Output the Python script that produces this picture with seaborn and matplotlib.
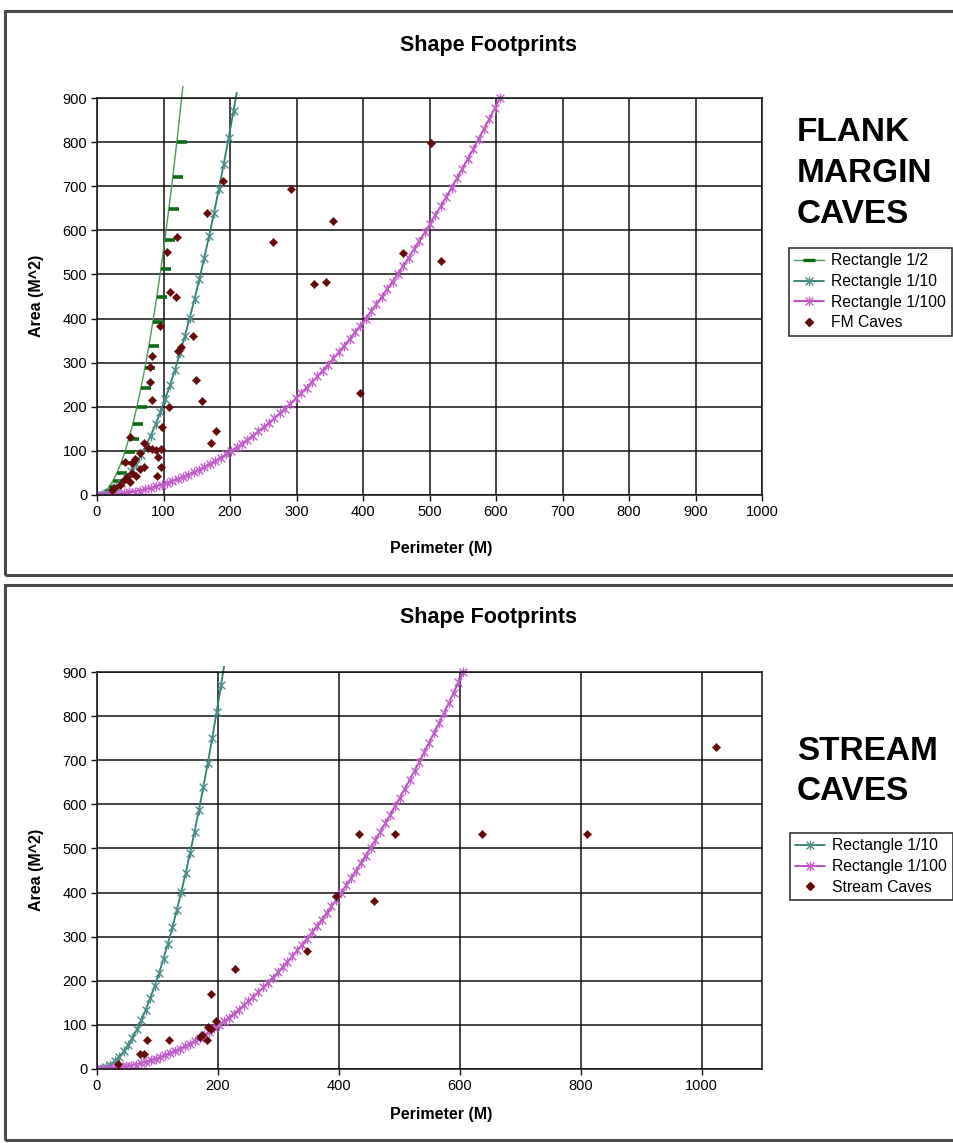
import matplotlib
matplotlib.use("Agg")
import matplotlib.pyplot as plt
from matplotlib.path import Path
from matplotlib.lines import Line2D
from matplotlib.patches import Rectangle
from matplotlib.transforms import Bbox, TransformedBbox
import seaborn as sns

# ---------------- data ----------------
# Rectangle 1/2 (sides a x 2a)
rect2_perimeter = [0, 6, 12, 18, 24, 30, 36, 42, 48, 54, 60, 66, 72, 78, 84, 90,
                   96, 102, 108, 114, 120, 126, 132]
rect2_area = [0, 2, 8, 18, 32, 50, 72, 98, 128, 162, 200, 242, 288, 338, 392, 450,
              512, 578, 648, 722, 800, 882, 968]

# Rectangle 1/10 (sides a x 10a)
rect10_perimeter = [0, 7.3, 14.7, 22.0, 29.3, 36.7, 44.0, 51.3, 58.7, 66.0, 73.3,
                    80.7, 88.0, 95.3, 102.7, 110.0, 117.3, 124.7, 132.0, 139.3,
                    146.7, 154.0, 161.3, 168.7, 176.0, 183.3, 190.7, 198.0, 205.3,
                    212.7]
rect10_area = [0, 1.1, 4.4, 10.0, 17.8, 27.8, 40.0, 54.4, 71.1, 90.0, 111.1,
               134.4, 160.0, 187.8, 217.8, 250.0, 284.4, 321.1, 360.0, 401.1,
               444.4, 490.0, 537.8, 587.8, 640.0, 694.4, 751.1, 810.0, 871.1,
               934.4]

# Rectangle 1/100 (sides a x 100a)
rect100_perimeter = [0, 8.1, 16.2, 24.2, 32.3, 40.4, 48.5, 56.6, 64.6, 72.7, 80.8,
                     88.9, 97.0, 105.0, 113.1, 121.2, 129.3, 137.4, 145.4, 153.5,
                     161.6, 169.7, 177.8, 185.8, 193.9, 202.0, 210.1, 218.2, 226.2,
                     234.3, 242.4, 250.5, 258.6, 266.6, 274.7, 282.8, 290.9, 299.0,
                     307.0, 315.1, 323.2, 331.3, 339.4, 347.4, 355.5, 363.6, 371.7,
                     379.8, 387.8, 395.9, 404.0, 412.1, 420.2, 428.2, 436.3, 444.4,
                     452.5, 460.6, 468.6, 476.7, 484.8, 492.9, 501.0, 509.0, 517.1,
                     525.2, 533.3, 541.4, 549.4, 557.5, 565.6, 573.7, 581.8, 589.8,
                     597.9, 606.0]
rect100_area = [0, 0.2, 0.6, 1.4, 2.6, 4.0, 5.8, 7.8, 10.2, 13.0, 16.0, 19.4, 23.0,
                27.0, 31.4, 36.0, 41.0, 46.2, 51.8, 57.8, 64.0, 70.6, 77.4, 84.6,
                92.2, 100.0, 108.2, 116.6, 125.4, 134.6, 144.0, 153.8, 163.8, 174.2,
                185.0, 196.0, 207.4, 219.0, 231.0, 243.4, 256.0, 269.0, 282.2, 295.8,
                309.8, 324.0, 338.6, 353.4, 368.6, 384.2, 400.0, 416.2, 432.6, 449.4,
                466.6, 484.0, 501.8, 519.8, 538.2, 557.0, 576.0, 595.4, 615.0, 635.0,
                655.4, 676.0, 697.0, 718.2, 739.8, 761.8, 784.0, 806.6, 829.4, 852.6,
                876.2, 900.0]

# Flank margin caves
fm_perimeter = [292, 503, 355, 265, 460, 518, 326, 344, 396,
                165, 189, 120, 106, 110, 119, 94, 145, 126, 122, 82, 80, 80, 149,
                82, 158, 108, 97, 179, 171,
                50, 71, 76, 82, 89, 96, 65, 92, 57, 53, 42, 96, 70, 65, 90, 52,
                58, 45, 40, 49, 26, 34, 22]
fm_area = [694, 799, 621, 574, 548, 531, 478, 484, 231,
           640, 712, 586, 550, 461, 450, 383, 360, 336, 326, 315, 290, 257, 261,
           215, 213, 200, 155, 146, 117,
           131, 117, 106, 104, 102, 104, 96, 87, 82, 73, 74, 64, 63, 58, 42, 51,
           43, 40, 34, 30, 17, 23, 11]

# Stream caves
stream_perimeter = [35, 71, 77, 83, 119, 170, 174, 182, 184, 188, 188, 197, 229,
                    348, 396, 458, 434, 493, 637, 810, 1024]
stream_area = [11, 33, 35, 66, 66, 73, 77, 66, 96, 90, 169, 109, 226,
               268, 393, 381, 533, 533, 533, 533, 731]

y_ticks = [0, 100, 200, 300, 400, 500, 600, 700, 800, 900]
top_x_ticks = [0, 100, 200, 300, 400, 500, 600, 700, 800, 900, 1000]
bottom_x_ticks = [0, 200, 400, 600, 800, 1000]

# ---------------- style ----------------
sns.set_theme(style="white")
plt.rcParams['font.family'] = ['Liberation Sans', 'DejaVu Sans']
plt.rcParams.update({"text.color": "black", "axes.labelcolor": "black",
                     "xtick.color": "black", "ytick.color": "black"})

GREEN_LINE = "#4a9a5a"
GREEN_MARK = "#0b6b14"
TEAL = "#2f8077"
TEAL_MARK = "#4f8f88"
MAGENTA = "#b940c0"
MAGENTA_MARK = "#c060c8"
CAVE = "#650a0a"

# dash marker that starts at the point and extends to the right
DASH = Path([(0, 0), (1, 0)], [Path.MOVETO, Path.LINETO])
# asterisk-like star: an x plus a vertical stroke
STAR = Path([(-1, -1), (1, 1), (-1, 1), (1, -1), (0, -1.25), (0, 1.25)],
            [Path.MOVETO, Path.LINETO] * 3)

fig = plt.figure(figsize=(9.54, 11.43), dpi=100)
W, H = 954, 1143


def fx(px):
    return px / W


def fy(py):
    return 1 - py / H


# chart frames
for top, bottom in [(11, 575), (585, 1140)]:
    fig.patches.append(Rectangle((fx(5), fy(bottom)), fx(970) - fx(5), fy(top) - fy(bottom),
                                 transform=fig.transFigure, fill=False,
                                 edgecolor="#4a4a4a", lw=2.2, zorder=0))


def style_axes(ax, xmax, xticks):
    ax.set_xlim(0, xmax)
    ax.set_ylim(0, 900)
    ax.set_xticks(xticks)
    ax.set_yticks(y_ticks)
    ax.grid(True, color="#111111", lw=1.1)
    ax.set_axisbelow(True)
    for s in ax.spines.values():
        s.set_color("#111111")
        s.set_linewidth(1.1)
        s.set_visible(True)
    ax.tick_params(axis="both", direction="out", length=4, width=1, color="#111111",
                   labelsize=10.5, pad=3, bottom=True, left=True)
    ax.set_xlabel("")
    ax.set_ylabel("")


def extend_clip(ax, line, top_frac):
    # let a curve run slightly past the top of the plot area
    line.set_clip_box(TransformedBbox(Bbox([[0, 0], [1, top_frac]]), ax.transAxes))


def star_curve(ax, xs, ys, line_c, mark_c, n_marked):
    sns.lineplot(x=xs, y=ys, ax=ax, sort=False, estimator=None, color=line_c, lw=1.3,
                 marker=STAR, markersize=7, markeredgecolor=mark_c, markeredgewidth=1.0,
                 markerfacecolor="none", markevery=list(range(n_marked)), legend=False)
    extend_clip(ax, ax.lines[-1], 1.014)


def caves(ax, xs, ys):
    sns.scatterplot(x=xs, y=ys, ax=ax, marker="D", s=18, color=CAVE, edgecolor=CAVE,
                    linewidth=0.3, legend=False, zorder=5)


# ---------------- top panel ----------------
ax1 = fig.add_axes([fx(97), fy(495), fx(762) - fx(97), fy(98) - fy(495)])
sns.lineplot(x=rect2_perimeter, y=rect2_area, ax=ax1, sort=False, estimator=None,
             color=GREEN_LINE, lw=1.0, marker=DASH, markersize=14,
             markeredgecolor=GREEN_MARK, markeredgewidth=2.6,
             markevery=list(range(len(rect2_area) - 2)), legend=False)
extend_clip(ax1, ax1.lines[-1], 1.03)
star_curve(ax1, rect10_perimeter, rect10_area, TEAL, TEAL_MARK, len(rect10_area) - 1)
star_curve(ax1, rect100_perimeter, rect100_area, MAGENTA, MAGENTA_MARK, len(rect100_area))
caves(ax1, fm_perimeter, fm_area)
style_axes(ax1, 1000, top_x_ticks)

# ---------------- bottom panel ----------------
ax2 = fig.add_axes([fx(97), fy(1069), fx(762) - fx(97), fy(672) - fy(1069)])
star_curve(ax2, rect10_perimeter, rect10_area, TEAL, TEAL_MARK, len(rect10_area) - 1)
star_curve(ax2, rect100_perimeter, rect100_area, MAGENTA, MAGENTA_MARK, len(rect100_area))
caves(ax2, stream_perimeter, stream_area)
style_axes(ax2, 1100, bottom_x_ticks)

# ---------------- text ----------------
title_kw = dict(ha="center", va="center", fontsize=15.5, fontweight="bold")
fig.text(fx(488), fy(45), "Shape Footprints", **title_kw)
fig.text(fx(488), fy(618), "Shape Footprints", **title_kw)

lab_kw = dict(ha="center", va="center", fontsize=11.5, fontweight="bold")
fig.text(fx(441), fy(548), "Perimeter (M)", **lab_kw)
fig.text(fx(441), fy(1115), "Perimeter (M)", **lab_kw)
fig.text(fx(37), fy(296), "Area (M^2)", rotation=90, **lab_kw)
fig.text(fx(37), fy(870), "Area (M^2)", rotation=90, **lab_kw)

big_kw = dict(ha="left", va="baseline", fontsize=24, fontweight="bold")
for line, base in zip(["FLANK", "MARGIN", "CAVES"], [141, 182, 223]):
    fig.text(fx(797), fy(base), line, **big_kw)
for line, base in zip(["STREAM", "CAVES"], [760, 800]):
    fig.text(fx(797), fy(base), line, **big_kw)

# ---------------- legends ----------------
h_rect2 = Line2D([], [], color=GREEN_LINE, lw=1.0, marker="_", markersize=8,
                 markeredgecolor=GREEN_MARK, markeredgewidth=2.4)
h_rect10 = Line2D([], [], color=TEAL, lw=1.3, marker=STAR, markersize=7,
                  markeredgecolor=TEAL_MARK, markeredgewidth=1.0)
h_rect100 = Line2D([], [], color=MAGENTA, lw=1.3, marker=STAR, markersize=7,
                   markeredgecolor=MAGENTA_MARK, markeredgewidth=1.0)
h_cave = Line2D([], [], lw=0, marker="D", markersize=4, color=CAVE)

leg_kw = dict(loc="upper left", bbox_transform=fig.transFigure, fontsize=11.3,
              frameon=True, fancybox=False, edgecolor="#333333", framealpha=1,
              handlelength=1.9, handletextpad=0.45, borderpad=0.35, labelspacing=0.36,
              borderaxespad=0)
leg1 = fig.legend([h_rect2, h_rect10, h_rect100, h_cave],
                  ["Rectangle 1/2", "Rectangle 1/10", "Rectangle 1/100", "FM Caves"],
                  bbox_to_anchor=(fx(789), fy(248)), **leg_kw)
leg2 = fig.legend([h_rect10, h_rect100, h_cave],
                  ["Rectangle 1/10", "Rectangle 1/100", "Stream Caves"],
                  bbox_to_anchor=(fx(790), fy(833)), **leg_kw)
for lg in (leg1, leg2):
    lg.get_frame().set_linewidth(1.2)

fig.savefig("out.png", dpi=100, facecolor="white")
